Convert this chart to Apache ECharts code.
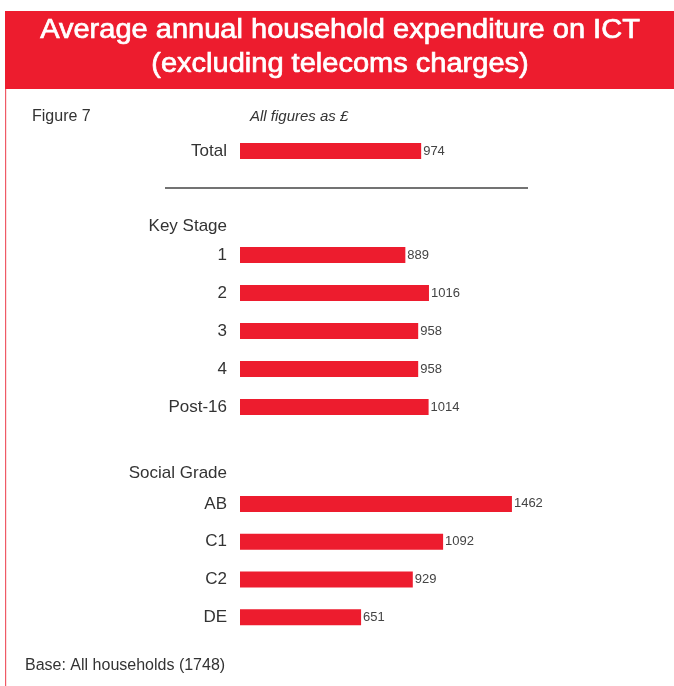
<!DOCTYPE html>
<html><head><meta charset="utf-8">
<script src="https://cdn.jsdelivr.net/npm/echarts@6/dist/echarts.min.js"></script>
<style>html,body{margin:0;padding:0;background:#fff}#c{width:674px;height:686px}</style>
</head><body><div id="c"></div>
<script>
const totalCats = ['Total'];
const totalVals = [974];
const keyStageCats = ['1','2','3','4','Post-16'];
const keyStageVals = [889,1016,958,958,1014];
const gradeCats = ['AB','C1','C2','DE'];
const gradeVals = [1462,1092,929,651];

const RED = '#ED1C2E';
const FONT = '"Liberation Sans", Arial, sans-serif';
const chart = echarts.init(document.getElementById('c'), null, {renderer:'canvas'});

const grids = [
  {left:240, width:279, top:132, height:38},
  {left:240, width:279, top:236, height:190},
  {left:240, width:279, top:485, height:151}
];
const cats = [totalCats, keyStageCats, gradeCats];
const vals = [totalVals, keyStageVals, gradeVals];

const xAxis = grids.map((g,i)=>({type:'value', gridIndex:i, min:0, max:1500, show:false}));
const yAxis = cats.map((c,i)=>({type:'category', gridIndex:i, data:c, inverse:true,
  axisLine:{show:false}, axisTick:{show:false}, splitLine:{show:false},
  axisLabel:{color:'#333', fontSize:17, fontFamily:FONT, margin:13}}));
const series = vals.map((v,i)=>({type:'bar', xAxisIndex:i, yAxisIndex:i, data:v, barWidth:16,
  itemStyle:{color:RED}, silent:true,
  label:{show:true, position:'right', distance:2, color:'#444', fontSize:13, fontFamily:FONT}}));

const titleStyle = {fill:'#fff', stroke:'#fff', lineWidth:0.7, font:'27px "Liberation Sans", Arial, sans-serif', textAlign:'center', textVerticalAlign:'middle'};
chart.setOption({
  animation:false,
  grid: grids,
  xAxis, yAxis, series,
  graphic:[
    {type:'rect', shape:{x:5, y:11, width:669, height:78}, style:{fill:RED}},
    {type:'rect', shape:{x:5, y:89, width:1.2, height:597}, style:{fill:'#EF5A66'}},
    {type:'text', x:340, y:31, scaleX:1.075, style:Object.assign({text:'Average annual household expenditure on ICT'}, titleStyle)},
    {type:'text', x:340, y:65, scaleX:1.075, style:Object.assign({text:'(excluding telecoms charges)'}, titleStyle)},
    {type:'text', x:32, y:117, style:{text:'Figure 7', fill:'#333', font:'16px '+FONT, textVerticalAlign:'middle'}},
    {type:'text', x:250, y:117, style:{text:'All figures as £', fill:'#333', font:'italic 15px '+FONT, textVerticalAlign:'middle'}},
    {type:'line', shape:{x1:165, y1:188, x2:528, y2:188}, style:{stroke:'#444', lineWidth:1.5}},
    {type:'text', x:227, y:226, style:{text:'Key Stage', fill:'#333', font:'17px '+FONT, textAlign:'right', textVerticalAlign:'middle'}},
    {type:'text', x:227, y:473, style:{text:'Social Grade', fill:'#333', font:'17px '+FONT, textAlign:'right', textVerticalAlign:'middle'}},
    {type:'text', x:25, y:666, style:{text:'Base: All households (1748)', fill:'#333', font:'16px '+FONT, textVerticalAlign:'middle'}}
  ]
});
</script></body></html>
